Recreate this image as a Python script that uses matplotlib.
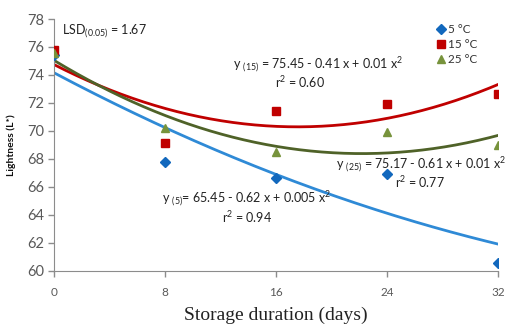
import numpy as np
import matplotlib.pyplot as plt

plt.rcParams['font.family'] = ['Lato', 'DejaVu Sans']
plt.rcParams['mathtext.fontset'] = 'custom'
plt.rcParams['mathtext.rm'] = 'Lato'
plt.rcParams['mathtext.it'] = 'Lato:italic'

# lightness readings per storage temperature
days = np.array([0, 8, 16, 24, 32])
l_5 = np.array([75.4, 67.8, 66.6, 66.9, 60.55])
l_15 = np.array([75.8, 69.1, 71.4, 71.95, 72.6])
l_25 = np.array([75.55, 70.2, 68.45, 69.9, 69.0])
labels = ['5 °C', '15 °C', '25 °C']

fig = plt.figure(figsize=(5.08, 3.28), dpi=100)
ax = fig.add_axes([0.107, 0.175, 0.873, 0.767])

series = [
    (l_5, 'D', '#1268bd', '#2f8ad6', 5),
    (l_15, 's', '#c00000', '#c00000', 6),
    (l_25, '^', '#77933c', '#4f6228', 6),
]
xx = np.linspace(0, 32, 200)
for (vals, mk, mcol, lcol, ms), lab in zip(series, labels):
    ax.plot(days, vals, linestyle='none', marker=mk, color=mcol, markersize=ms, label=lab, zorder=3)
    coef = np.polyfit(days, vals, 2)
    ax.plot(xx, np.polyval(coef, xx), color=lcol, lw=2, zorder=2)

ax.set_xlim(0, 32)
ax.set_ylim(60, 78)
ax.set_xticks([0, 8, 16, 24, 32])
ax.set_yticks(np.arange(60, 79, 2))
for s in ['top', 'right']:
    ax.spines[s].set_visible(False)
for s in ['left', 'bottom']:
    ax.spines[s].set_color('#8c8c8c')
ax.tick_params(axis='both', colors='#8c8c8c', labelcolor='#595959', length=4, width=1)
ax.tick_params(axis='y', labelsize=10.5)
ax.tick_params(axis='x', labelsize=8.5, pad=8)

ax.set_xlabel('Storage duration (days)', family='Liberation Serif', fontsize=14, color='#222222', labelpad=6)
ax.set_ylabel('Lightness (L*)', fontsize=7.5, fontweight='bold', color='#111111', labelpad=8)

txt = dict(fontsize=9, color='#222222', va='center')
ax.text(0.55, 77.1, r'LSD$_{\rm (0.05)}$ = 1.67', **txt)
ax.text(12.9, 74.7, r'y $_{\rm (15)}$ = 75.45 - 0.41 x + 0.01 x$^2$', **txt)
ax.text(15.9, 73.5, r'r$^2$ = 0.60', **txt)
ax.text(20.3, 67.5, r'y $_{\rm (25)}$ = 75.17 - 0.61 x + 0.01 x$^2$', **txt)
ax.text(24.6, 66.3, r'r$^2$ = 0.77', **txt)
ax.text(7.75, 65.1, r'y $_{\rm (5)}$= 65.45 - 0.62 x + 0.005 x$^2$', **txt)
ax.text(12.1, 63.85, r'r$^2$ = 0.94', **txt)

ax.legend(loc='upper right', bbox_to_anchor=(0.965, 1.0), frameon=False, fontsize=8.5,
          handletextpad=0.1, handlelength=1.0, labelspacing=0.35, borderaxespad=0,
          labelcolor='#333333')

fig.savefig('out.png', dpi=100)
